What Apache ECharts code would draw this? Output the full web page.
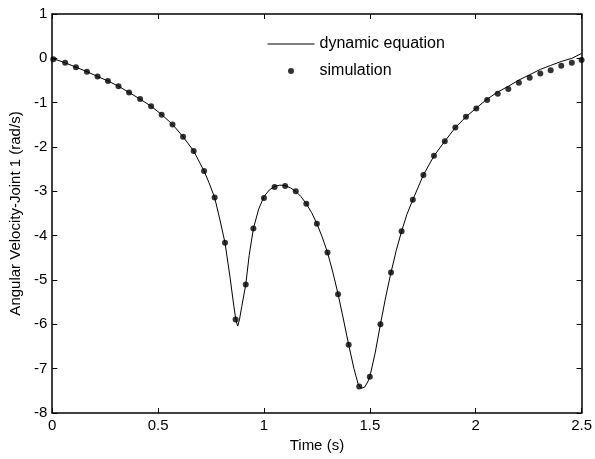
<!DOCTYPE html>
<html>
<head>
<meta charset="utf-8">
<script src="https://cdn.jsdelivr.net/npm/echarts@6/dist/echarts.min.js"></script>
<style>html,body{margin:0;padding:0;background:#fff}#c{width:595px;height:459px}</style>
</head>
<body>
<div id="c"></div>
<script>
var xTicks = [0, 0.5, 1, 1.5, 2, 2.5];
var yTicks = [-8, -7, -6, -5, -4, -3, -2, -1, 0, 1];
var seriesNames = ['dynamic equation', 'simulation'];

// dynamic equation curve [time, angular velocity]
var lineTime = [0,0.061,0.112,0.164,0.214,0.263,0.313,0.363,0.415,0.467,0.517,0.568,0.618,0.668,0.717,0.74,0.767,0.79,0.816,0.84,0.858,0.868,0.876,0.884,0.895,0.914,0.93,0.95,0.975,1.0,1.025,1.05,1.075,1.1,1.125,1.15,1.175,1.2,1.225,1.25,1.275,1.3,1.325,1.35,1.375,1.4,1.425,1.445,1.46,1.475,1.49,1.5,1.525,1.55,1.575,1.6,1.625,1.65,1.675,1.703,1.753,1.803,1.854,1.904,1.954,2.003,2.054,2.104,2.154,2.204,2.255,2.305,2.354,2.404,2.454,2.5];
var lineVel = [0,-0.10,-0.20,-0.30,-0.41,-0.51,-0.63,-0.77,-0.92,-1.08,-1.27,-1.49,-1.77,-2.09,-2.54,-2.80,-3.14,-3.60,-4.16,-4.95,-5.60,-5.92,-6.04,-5.90,-5.60,-5.10,-4.45,-3.84,-3.40,-3.12,-2.97,-2.89,-2.86,-2.87,-2.92,-3.00,-3.12,-3.28,-3.48,-3.73,-4.03,-4.38,-4.82,-5.32,-5.88,-6.46,-7.00,-7.35,-7.44,-7.42,-7.30,-7.18,-6.65,-6.00,-5.38,-4.83,-4.33,-3.90,-3.52,-3.19,-2.63,-2.20,-1.87,-1.56,-1.32,-1.12,-0.92,-0.76,-0.63,-0.49,-0.37,-0.25,-0.16,-0.07,0.00,0.11];

// simulation points [time, angular velocity]
var simTime = [0.005,0.061,0.112,0.164,0.214,0.263,0.313,0.363,0.415,0.467,0.517,0.568,0.618,0.668,0.717,0.767,0.816,0.866,0.914,0.95,1.0,1.05,1.1,1.15,1.2,1.25,1.3,1.35,1.4,1.45,1.5,1.55,1.6,1.65,1.703,1.753,1.803,1.854,1.904,1.954,2.003,2.054,2.104,2.154,2.204,2.255,2.305,2.354,2.404,2.454,2.5];
var simVel = [-0.02,-0.10,-0.20,-0.30,-0.41,-0.51,-0.63,-0.77,-0.92,-1.08,-1.27,-1.49,-1.77,-2.09,-2.54,-3.14,-4.16,-5.89,-5.10,-3.84,-3.15,-2.90,-2.88,-3.00,-3.28,-3.73,-4.38,-5.32,-6.46,-7.40,-7.18,-6.00,-4.83,-3.90,-3.19,-2.63,-2.20,-1.87,-1.56,-1.32,-1.13,-0.94,-0.80,-0.69,-0.55,-0.44,-0.34,-0.27,-0.17,-0.10,-0.04];

var lineData = lineTime.map(function (t, i) { return [t, lineVel[i]]; });
var simData = simTime.map(function (t, i) { return [t, simVel[i]]; });

var FONT = 'Liberation Sans';
var FS = 15;
var axisLine = { show: true, onZero: false, lineStyle: { color: '#000', width: 1.5 } };
var tick = { show: true, inside: true, length: 5, lineStyle: { color: '#000', width: 1 } };

var chart = echarts.init(document.getElementById('c'), null, { renderer: 'canvas' });
chart.setOption({
  animation: false,
  backgroundColor: '#fff',
  grid: { left: 52, right: 12.5, top: 14, bottom: 46, containLabel: false },
  legend: {
    data: [
      { name: seriesNames[0], itemStyle: { color: 'rgba(0,0,0,0)', borderWidth: 0 }, lineStyle: { width: 1, color: '#000' } },
      { name: seriesNames[1] }
    ],
    orient: 'vertical',
    left: 267,
    top: 35,
    padding: 0,
    itemWidth: 47,
    itemHeight: 6,
    itemGap: 9,
    textStyle: { fontFamily: FONT, fontSize: 16, color: '#000', lineHeight: 18 }
  },
  xAxis: [{
    type: 'value', min: xTicks[0], max: xTicks[xTicks.length - 1], interval: 0.5,
    position: 'bottom',
    name: 'Time (s)', nameLocation: 'middle', nameGap: 22,
    nameTextStyle: { fontFamily: FONT, fontSize: FS, color: '#000' },
    axisLine: axisLine, axisTick: tick,
    axisLabel: { color: '#000', fontFamily: FONT, fontSize: FS, margin: 5 },
    splitLine: { show: false }
  }, {
    type: 'value', min: xTicks[0], max: xTicks[xTicks.length - 1], interval: 0.5,
    position: 'top',
    axisLine: axisLine, axisTick: tick, axisLabel: { show: false }, splitLine: { show: false }
  }],
  yAxis: [{
    type: 'value', min: yTicks[0], max: yTicks[yTicks.length - 1], interval: 1,
    position: 'left',
    name: 'Angular Velocity-Joint 1 (rad/s)', nameLocation: 'middle', nameGap: 29,
    nameTextStyle: { fontFamily: FONT, fontSize: FS, color: '#000' },
    axisLine: axisLine, axisTick: tick,
    axisLabel: { color: '#000', fontFamily: FONT, fontSize: FS, margin: 5 },
    splitLine: { show: false }
  }, {
    type: 'value', min: yTicks[0], max: yTicks[yTicks.length - 1], interval: 1,
    position: 'right',
    axisLine: axisLine, axisTick: tick, axisLabel: { show: false }, splitLine: { show: false }
  }],
  series: [{
    name: seriesNames[0],
    type: 'line',
    data: lineData,
    symbol: 'none',
    smooth: false,
    clip: false,
    lineStyle: { color: '#000', width: 1 },
    itemStyle: { color: '#000' },
    z: 2
  }, {
    name: seriesNames[1],
    type: 'scatter',
    data: simData,
    symbol: 'circle',
    symbolSize: 6,
    clip: false,
    itemStyle: { color: '#000' },
    z: 3
  }]
});
</script>
</body>
</html>
